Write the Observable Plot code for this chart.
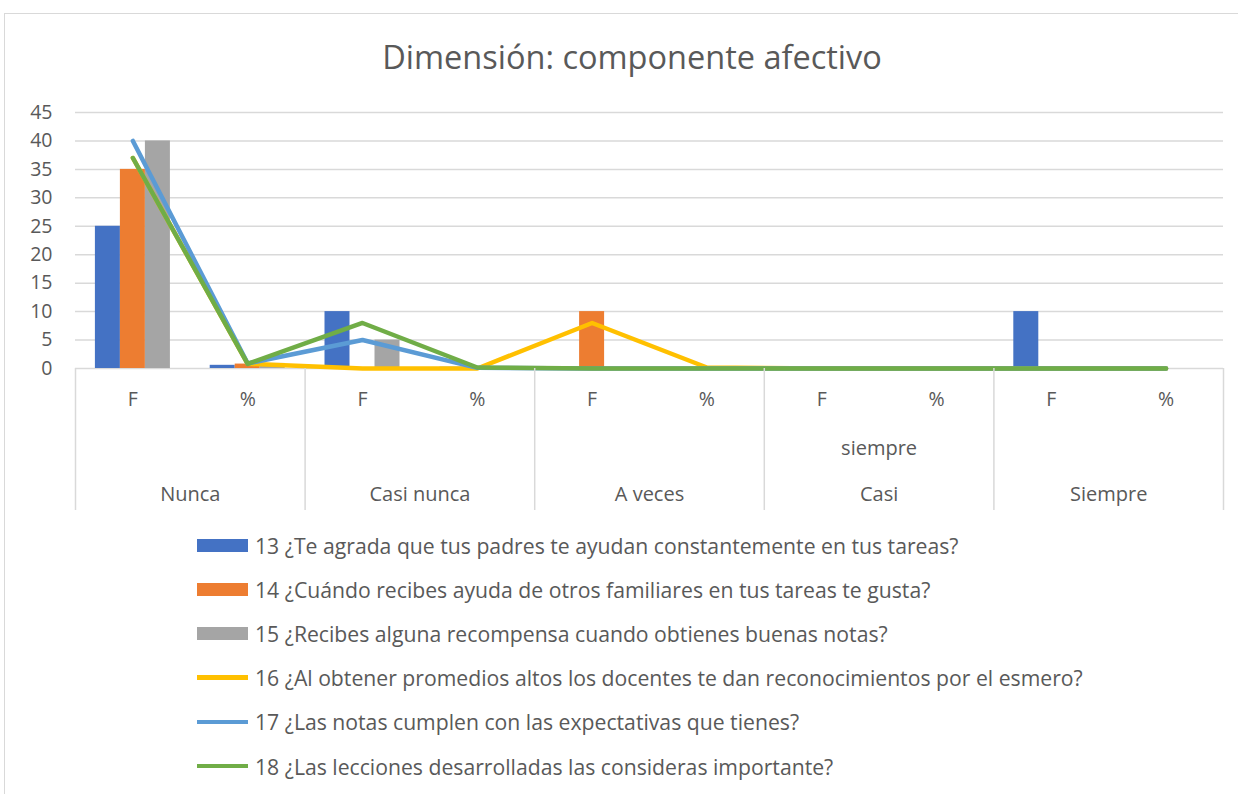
<!DOCTYPE html>
<html>
<head>
<meta charset="utf-8">
<script src="https://cdn.jsdelivr.net/npm/d3@7"></script>
<script src="https://cdn.jsdelivr.net/npm/@observablehq/plot@0.6"></script>
<style>
  body { margin: 0; background: #fff; font-family: "Open Sans", sans-serif; color: #595959; }
  #wrap { position: relative; width: 1238px; height: 794px; overflow: hidden; }
  #border { position: absolute; left: 4px; top: 13px; width: 1300px; height: 900px; border: 1.5px solid #d9d9d9; box-sizing: border-box; }
  #title { position: absolute; left: 0; width: 1264px; top: 37px; line-height: 40px; text-align: center; font-size: 32.5px; color: #595959; }
  #chart { position: absolute; left: 0; top: 90px; }
  #legend { position: absolute; left: 197px; top: 523px; }
  .item { height: 44.2px; display: flex; align-items: center; font-size: 21.2px; color: #595959; white-space: nowrap; }
  .sw { width: 51px; margin-right: 7px; flex: none; }
</style>
</head>
<body>
<div id="wrap">
  <div id="border"></div>
  <div id="title">Dimensión: componente afectivo</div>
  <div id="chart"></div>
  <div id="legend"></div>
</div>
<script>
const groups = ["Nunca", "Casi nunca", "A veces", "Casi siempre", "Siempre"];
const groupLines = ["Nunca", "Casi nunca", "A veces", "siempre\nCasi", "Siempre"];
const subs = ["F", "%"];
const seriesNames = [
  "13 ¿Te agrada que tus padres te ayudan constantemente en tus tareas?",
  "14 ¿Cuándo recibes ayuda de otros familiares en tus tareas te gusta?",
  "15 ¿Recibes alguna recompensa cuando obtienes buenas notas?",
  "16 ¿Al obtener promedios altos los docentes te dan reconocimientos por el esmero?",
  "17 ¿Las notas cumplen con las expectativas que tienes?",
  "18 ¿Las lecciones desarrolladas las consideras importante?"
];
const colors = ["#4472C4", "#ED7D31", "#A5A5A5", "#FFC000", "#5B9BD5", "#70AD47"];
const kinds = ["bar", "bar", "bar", "line", "line", "line"];
// values per slot: Nunca F, Nunca %, Casi nunca F, %, A veces F, %, Casi siempre F, %, Siempre F, %
const s13 = [25, 0.56, 10, 0.22, 0, 0, 0, 0, 10, 0.22];
const s14 = [35, 0.78, 0, 0, 10, 0.22, 0, 0, 0, 0];
const s15 = [40, 0.89, 5, 0.11, 0, 0, 0, 0, 0, 0];
const s16 = [37, 0.82, 0, 0, 8, 0.18, 0, 0, 0, 0];
const s17 = [40, 0.89, 5, 0.11, 0, 0, 0, 0, 0, 0];
const s18 = [37, 0.82, 8, 0.18, 0, 0, 0, 0, 0, 0];
const yTicks = [0, 5, 10, 15, 20, 25, 30, 35, 40, 45];

const allSeries = [s13, s14, s15, s16, s17, s18];
const slots = groups.flatMap(g => subs.map(s => g + "|" + s));
const rows = allSeries.map((vals, si) => vals.map((v, i) => ({slot: slots[i], value: v, series: si})));

const W = 1238, H = 430, ml = 75, mr = 15, mt = 22, mb = 152;
const plotH = H - mt - mb;
const bw = (W - ml - mr) / slots.length;
const barW = 25;
const inset = (bw - barW) / 2;

const marks = [
  Plot.ruleY(yTicks, {y: d => d, stroke: "#d9d9d9", strokeWidth: 1.5})
];
[0, 1, 2].forEach((si, k) => {
  marks.push(Plot.barY(rows[si], {x: "slot", y: "value", fill: colors[si], insetLeft: inset, insetRight: inset, dx: (k - 1) * barW}));
});
[3, 4, 5].forEach(si => {
  marks.push(Plot.lineY(rows[si], {x: "slot", y: "value", stroke: colors[si], strokeWidth: 4.5, strokeLinejoin: "round", strokeLinecap: "round"}));
});
// group separators (below the plot area)
marks.push(Plot.ruleX(groups.map(g => g + "|F"), {x: d => d, dx: -bw / 2, stroke: "#d9d9d9", strokeWidth: 1.5, insetTop: plotH, insetBottom: -142}));
marks.push(Plot.ruleX([slots[slots.length - 1]], {x: d => d, dx: bw / 2, stroke: "#d9d9d9", strokeWidth: 1.5, insetTop: plotH, insetBottom: -142}));
// group labels
marks.push(Plot.text(groups.map((g, i) => ({slot: g + "|F", label: groupLines[i]})), {
  x: "slot", text: "label", dx: bw / 2, frameAnchor: "bottom", dy: 132, lineAnchor: "bottom", lineHeight: 2.3,
  fontSize: 20, fill: "#595959", fontFamily: "Open Sans"
}));
marks.push(Plot.axisX({tickFormat: d => d.split("|")[1], tickSize: 0, tickPadding: 24, fontSize: 19.5, label: null}));
marks.push(Plot.axisY(yTicks, {tickSize: 0, tickPadding: 23, fontSize: 19.5, label: null}));

const chart = Plot.plot({
  width: W, height: H,
  marginLeft: ml, marginRight: mr, marginTop: mt, marginBottom: mb,
  style: {fontFamily: "Open Sans", fontSize: "18px", color: "#595959", background: "transparent", overflow: "visible"},
  x: {type: "band", domain: slots, padding: 0, round: false},
  y: {domain: [0, 45]},
  marks
});
document.getElementById("chart").appendChild(chart);

const legend = document.getElementById("legend");
seriesNames.forEach((name, i) => {
  const item = document.createElement("div");
  item.className = "item";
  const sw = document.createElement("div");
  sw.className = "sw";
  sw.style.background = colors[i];
  sw.style.height = kinds[i] === "bar" ? "13px" : "4.5px";
  item.appendChild(sw);
  const t = document.createElement("span");
  t.textContent = name;
  item.appendChild(t);
  legend.appendChild(item);
});
</script>
</body>
</html>
